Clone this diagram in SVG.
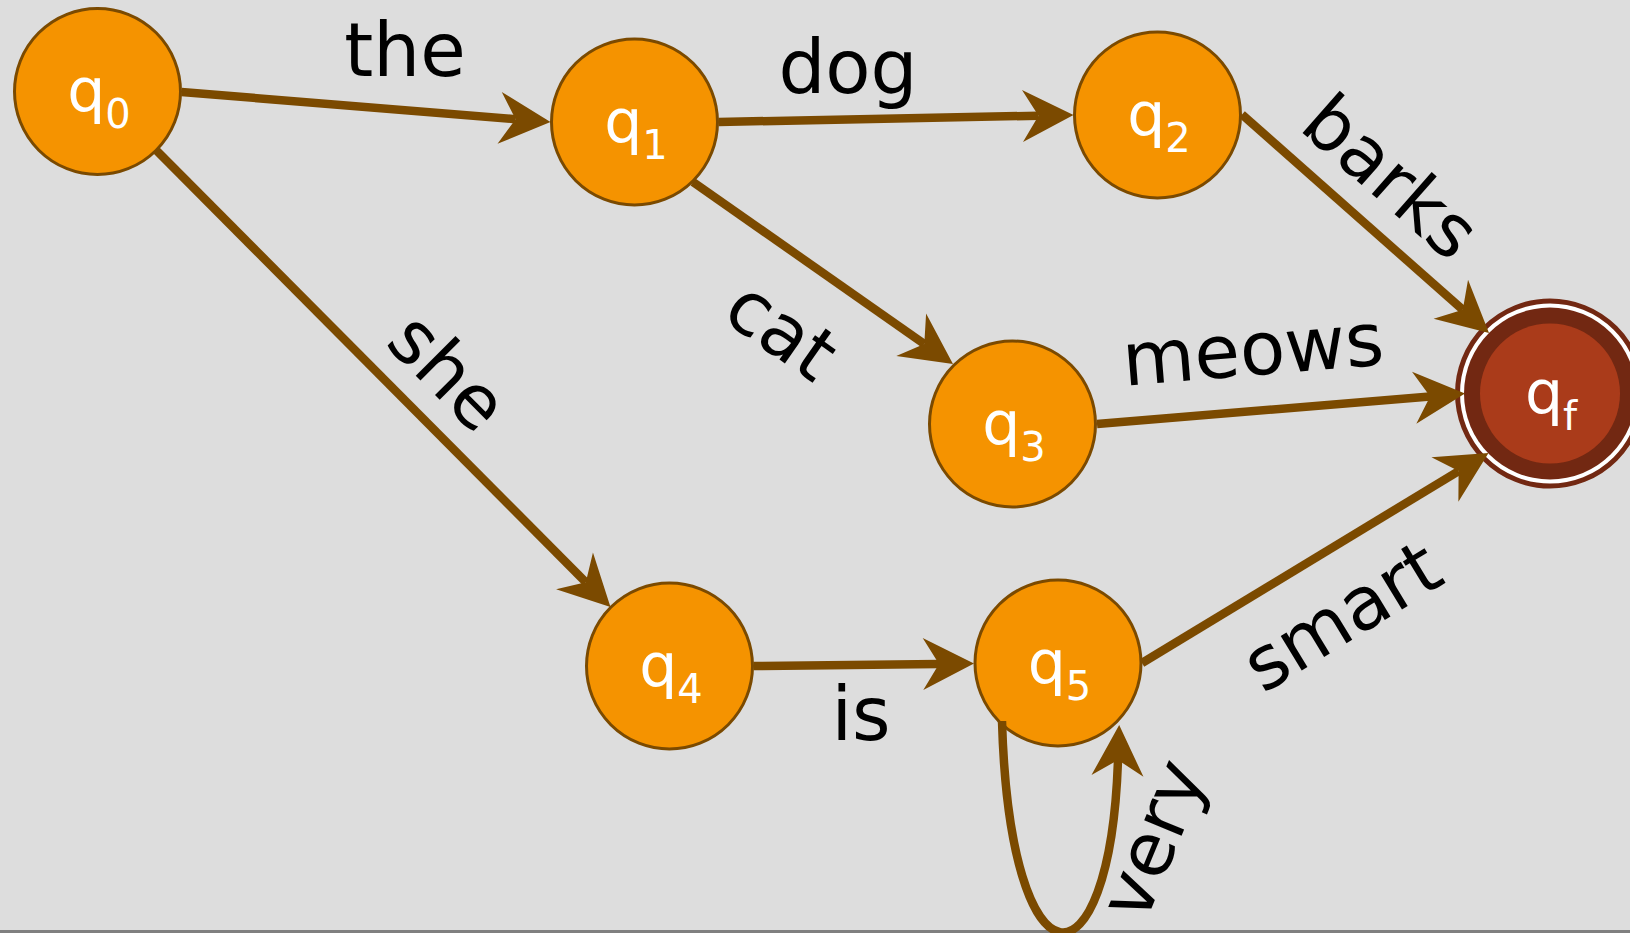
<svg xmlns="http://www.w3.org/2000/svg" width="1630" height="933" viewBox="0 0 1630 933">
<style>
.node{fill:#F59300;stroke:#7B4A00;stroke-width:3}
.nl{font-family:"DejaVu Sans",Verdana,sans-serif;font-size:60px;fill:#ffffff;text-anchor:middle}
.sub{font-size:40px}
.edge{fill:none;stroke:#7B4A00;stroke-width:8.5}
.el{font-family:"DejaVu Sans",Verdana,sans-serif;font-size:74px;fill:#000000;text-anchor:middle}
</style>
<defs>
<marker id="arr" markerUnits="userSpaceOnUse" markerWidth="120" markerHeight="120" refX="0" refY="0" orient="auto" overflow="visible">
<path d="M35,0 L-16,-26 L0,0 L-16,26 Z" fill="#7B4A00"/>
</marker>
</defs>
<rect x="0" y="0" width="1630" height="933" fill="#DDDDDD"/>
<rect x="0" y="930" width="1630" height="3" fill="#808080"/>

<g id="q0"><circle class="node" cx="97.5" cy="91.5" r="83"/><text class="nl" x="99" y="111">q<tspan class="sub" dy="17">0</tspan></text></g>
<g id="q1"><circle class="node" cx="634.5" cy="122" r="83"/><text class="nl" x="636" y="141.5">q<tspan class="sub" dy="17">1</tspan></text></g>
<g id="q2"><circle class="node" cx="1157.5" cy="115" r="83"/><text class="nl" x="1159" y="134.5">q<tspan class="sub" dy="17">2</tspan></text></g>
<g id="q3"><circle class="node" cx="1012.5" cy="424" r="83"/><text class="nl" x="1014" y="443.5">q<tspan class="sub" dy="17">3</tspan></text></g>
<g id="q4"><circle class="node" cx="669.5" cy="666" r="83"/><text class="nl" x="671" y="685.5">q<tspan class="sub" dy="17">4</tspan></text></g>
<g id="q5"><circle class="node" cx="1058" cy="663" r="83"/><text class="nl" x="1059.5" y="682.5">q<tspan class="sub" dy="17">5</tspan></text></g>
<g id="qf">
<circle cx="1550" cy="393.5" r="92.5" fill="#ffffff" stroke="#722812" stroke-width="5"/>
<circle cx="1550" cy="393.5" r="86" fill="#722812"/>
<circle cx="1550" cy="393.5" r="70" fill="#AA3B1A"/>
<text class="nl" x="1551" y="413">q<tspan class="sub" dy="17">f</tspan></text>
</g>

<g id="connectors">
<path class="edge" d="M181.5,92 L515.6,119.2" marker-end="url(#arr)"/>
<path class="edge" d="M718.5,122 L1038.5,115.7" marker-end="url(#arr)"/>
<path class="edge" d="M1242,114.5 L1462.8,309.8" marker-end="url(#arr)"/>
<path class="edge" d="M693,182 L924.3,343.9" marker-end="url(#arr)"/>
<path class="edge" d="M1097,424 L1430.1,396.4" marker-end="url(#arr)"/>
<path class="edge" d="M156.5,150.5 L585.8,582.2" marker-end="url(#arr)"/>
<path class="edge" d="M753.5,666 L939,663.9" marker-end="url(#arr)"/>
<path class="edge" d="M1142,663 L1458.6,471.1" marker-end="url(#arr)"/>
<path class="edge" d="M1002,721 C1010,996 1110,996 1118,760" marker-end="url(#arr)"/>
</g>

<g id="labels">
<text class="el" x="405" y="76">the</text>
<text class="el" x="848" y="93">dog</text>
<text class="el" transform="translate(1374,196) rotate(41.4)">barks</text>
<text class="el" transform="translate(767,351) rotate(35)">cat</text>
<text class="el" transform="translate(1255,375) rotate(-4.7)">meows</text>
<text class="el" transform="translate(430,390) rotate(45)">she</text>
<text class="el" x="861" y="740">is</text>
<text class="el" transform="translate(1355,638) rotate(-31.3)">smart</text>
<text class="el" transform="translate(1176,849) rotate(-67.5)">very</text>
</g>
</svg>
